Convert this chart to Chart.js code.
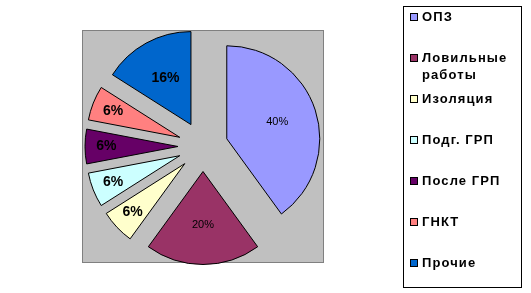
<!DOCTYPE html>
<html>
<head>
<meta charset="utf-8">
<script src="https://cdn.jsdelivr.net/npm/chart.js@4/dist/chart.umd.min.js"></script>
<style>
  html, body { margin: 0; padding: 0; background: #fff; }
  #wrap { position: relative; width: 531px; height: 293px; }
  #pie { position: absolute; left: 0; top: 0; }
  .pie-legend {
    position: absolute; left: 403px; top: 6px; width: 119px; height: 282px;
    box-sizing: border-box; border: 1px solid #000; background: #fff;
    padding-top: 1px;
    font: bold 13px "Liberation Sans", Arial, sans-serif; color: #000;
    letter-spacing: 1.1px;
  }
  .legend-item { position: relative; height: 41px; padding-left: 18px; line-height: 17.3px; }
  .legend-swatch { position: absolute; left: 6px; top: 5px; width: 6px; height: 6px; border: 1px solid #000; }
</style>
</head>
<body>
<div id="wrap">
  <canvas id="pie" width="531" height="293"></canvas>
  <div class="pie-legend"></div>
</div>
<script>
const categories = ['ОПЗ', ['Ловильные', 'работы'], 'Изоляция', 'Подг. ГРП', 'После ГРП', 'ГНКТ', 'Прочие'];
const shares = [40, 20, 6, 6, 6, 6, 16];
const sliceColors = ['#9999ff', '#993366', '#ffffcc', '#ccffff', '#660066', '#ff8080', '#0066cc'];
const labelFonts = ['11px', '11px', 'bold 14px', 'bold 14px', 'bold 14px', 'bold 14px', 'bold 14px'];

function getLegendBox() {
  return document.getElementsByClassName('pie-legend')[0];
}

// grey plot area behind the pie, like the Excel original
const plotBackground = {
  id: 'plotBackground',
  beforeDraw(chart) {
    const { ctx, chartArea: a } = chart;
    ctx.save();
    ctx.fillStyle = '#c0c0c0';
    ctx.fillRect(a.left, a.top, a.right - a.left, a.bottom - a.top);
    ctx.strokeStyle = '#808080';
    ctx.lineWidth = 1;
    ctx.strokeRect(a.left + 0.5, a.top + 0.5, a.right - a.left - 1, a.bottom - a.top - 1);
    ctx.restore();
  }
};

// pull every slice out along its middle angle (chart.js offset also grows the radius)
const explodeSlices = {
  id: 'explodeSlices',
  afterUpdate(chart, args, opts) {
    chart.getDatasetMeta(0).data.forEach(arc => {
      const mid = (arc.startAngle + arc.endAngle) / 2;
      arc.x += Math.cos(mid) * opts.distance;
      arc.y += Math.sin(mid) * opts.distance;
    });
  }
};

// percent labels inside the slices
const sliceLabels = {
  id: 'sliceLabels',
  afterDatasetsDraw(chart, args, opts) {
    const { ctx } = chart;
    const meta = chart.getDatasetMeta(0);
    const values = chart.data.datasets[0].data;
    const total = values.reduce((s, v) => s + v, 0);
    ctx.save();
    ctx.fillStyle = '#000';
    ctx.textAlign = 'center';
    ctx.textBaseline = 'middle';
    meta.data.forEach((arc, i) => {
      const { x, y, startAngle, endAngle, outerRadius } = arc;
      const mid = (startAngle + endAngle) / 2;
      const share = values[i] / total;
      const dist = (share < 0.1 ? opts.smallFrac : opts.bigFrac) * outerRadius;
      ctx.font = `${opts.fonts[i]} "Liberation Sans", Arial, sans-serif`;
      ctx.fillText(Math.round(share * 100) + '%', x + Math.cos(mid) * dist, y + Math.sin(mid) * dist);
    });
    ctx.restore();
  }
};

function buildLegend(chart) {
  const box = getLegendBox();
  box.innerHTML = '';
  chart.data.labels.forEach((label, i) => {
    const item = document.createElement('div');
    item.classList.add('legend-item');
    const swatch = document.createElement('span');
    swatch.classList.add('legend-swatch');
    swatch.style.background = sliceColors[i];
    item.appendChild(swatch);
    const text = document.createElement('span');
    text.innerHTML = Array.isArray(label) ? label.join('<br>') : label;
    item.appendChild(text);
    box.appendChild(item);
  });
}

const chart = new Chart(document.getElementById('pie').getContext('2d'), {
  type: 'pie',
  data: {
    labels: categories,
    datasets: [{
      data: shares,
      backgroundColor: sliceColors,
      borderColor: '#000',
      borderWidth: 1,
      hoverOffset: 0
    }]
  },
  options: {
    responsive: false,
    animation: false,
    events: [],
    radius: 93,
    layout: { padding: { left: 82, top: 30, right: 207, bottom: 30 } },
    plugins: {
      legend: { display: false },
      tooltip: { enabled: false },
      explodeSlices: { distance: 25 },
      sliceLabels: { fonts: labelFonts, smallFrac: 0.77, bigFrac: 0.57 }
    }
  },
  plugins: [plotBackground, explodeSlices, sliceLabels]
});

buildLegend(chart);
</script>
</body>
</html>
